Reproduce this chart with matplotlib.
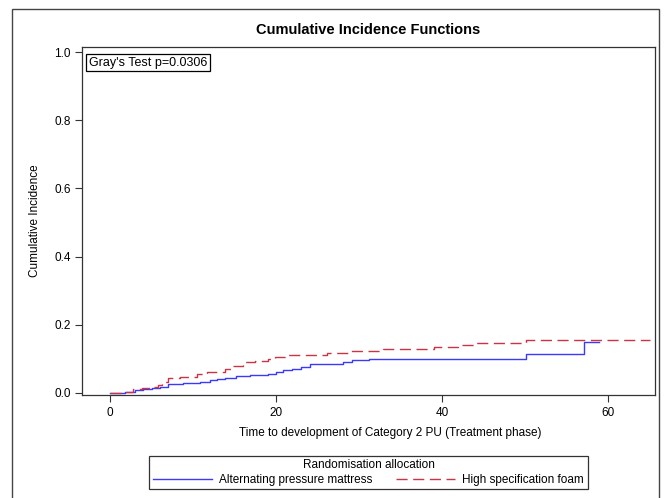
import matplotlib
matplotlib.use("Agg")
import matplotlib.pyplot as plt
from matplotlib.patches import Rectangle

plt.rcParams['font.family'] = ['Liberation Sans', 'DejaVu Sans']

# step points
alt_time = [0, 1.8, 3, 4, 5, 6, 7, 8.8, 10.8, 12, 12.9, 13.8, 15.2, 16.8, 19, 20,
            20.8, 21.9, 23, 24, 28, 29.1, 31.1, 50.1, 57.0, 58.9]
alt_cif = [0, 0.002, 0.009, 0.013, 0.016, 0.018, 0.025, 0.028, 0.033, 0.038, 0.041,
           0.045, 0.050, 0.053, 0.057, 0.061, 0.067, 0.071, 0.077, 0.085, 0.092,
           0.097, 0.100, 0.114, 0.150, 0.150]

foam_time = [0, 1.6, 2.8, 3.8, 5, 5.8, 6.2, 7, 8.4, 10.4, 11.6, 13.8, 14.8, 16, 17.4,
             19, 19.9, 21, 26.1, 28.9, 32.9, 39, 41.9, 44.1, 50.1, 65]
foam_cif = [0, 0.002, 0.011, 0.014, 0.017, 0.023, 0.031, 0.043, 0.048, 0.055, 0.061,
            0.069, 0.079, 0.092, 0.095, 0.099, 0.105, 0.112, 0.118, 0.124, 0.128,
            0.134, 0.140, 0.146, 0.155, 0.155]

x_ticks = [0, 20, 40, 60]
y_ticks = [0.0, 0.2, 0.4, 0.6, 0.8, 1.0]

fig = plt.figure(figsize=(6.67, 4.98), dpi=100)
ax = fig.add_axes([82 / 667, 1 - 395 / 498, 573 / 667, 348 / 498])

ax.step(alt_time, alt_cif, where='post', color='#3a3aff', lw=1.0,
        label='Alternating pressure mattress')
ax.step(foam_time, foam_cif, where='post', color='#cc3344', lw=1.0,
        dashes=(8, 4), label='High specification foam')

ax.set_xlim(-3.4, 65.6)
ax.set_ylim(-0.006, 1.015)
ax.set_xticks(x_ticks)
ax.set_yticks(y_ticks)
ax.set_yticklabels([f"{v:.1f}" for v in y_ticks])
ax.tick_params(labelsize=8.5, length=5, width=0.8, color='#333333')
ax.tick_params(axis='y', pad=3)
for s in ax.spines.values():
    s.set_color('#333333')
    s.set_linewidth(0.9)

ax.set_title("Cumulative Incidence Functions", fontsize=10.5, fontweight='bold', pad=9)
ax.set_xlabel("Time to development of Category 2 PU (Treatment phase)", fontsize=8.5,
              labelpad=6, x=0.5375)
ax.set_ylabel("Cumulative Incidence", fontsize=8.5, labelpad=10)

ax.text(0.012, 0.972, "Gray's Test p=0.0306", transform=ax.transAxes, fontsize=9,
        va='top', ha='left',
        bbox=dict(boxstyle='square,pad=0.2', fc='white', ec='black', lw=0.9))

leg = fig.legend(loc='center', bbox_to_anchor=(368.5 / 667, 1 - 472.5 / 498), ncol=2,
                 title="Randomisation allocation", fontsize=8.5, title_fontsize=8.5,
                 fancybox=False, edgecolor='black', handlelength=5, borderpad=0.3,
                 labelspacing=0.2, columnspacing=2.0, handletextpad=0.6, borderaxespad=0)
leg.get_frame().set_linewidth(0.9)

fig.patches.append(Rectangle((12 / 667, -0.02), 647 / 667, 1.02 - 9 / 498,
                             transform=fig.transFigure, fill=False,
                             ec='#444444', lw=1.0))

fig.savefig("out.png", dpi=100)
